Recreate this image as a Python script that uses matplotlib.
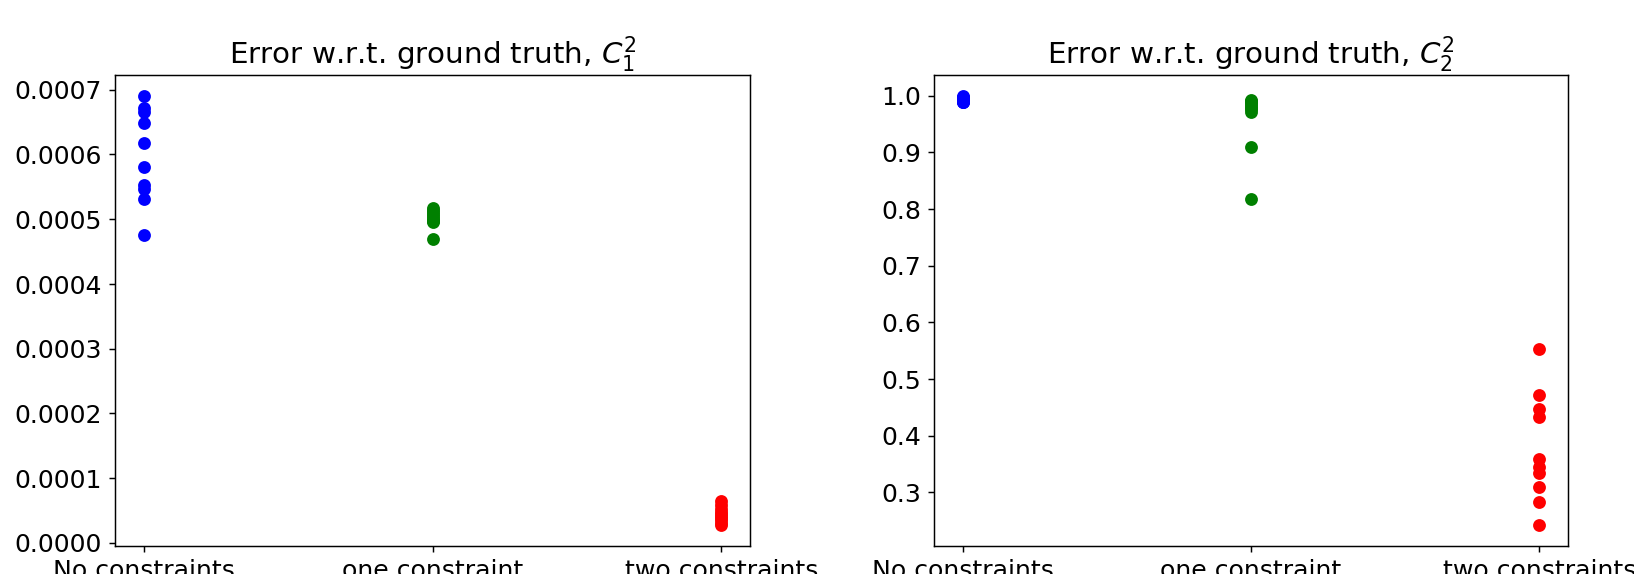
import numpy as np
import matplotlib.pyplot as plt

labels = ['No constraints', 'one constraint', 'two constraints']

# error against ground truth for C_1^2
c1_none = [0.000690, 0.000672, 0.000666, 0.000648, 0.000618,
           0.000581, 0.000553, 0.000546, 0.000531, 0.000475]
c1_one = [0.000517, 0.000514, 0.000511, 0.000508, 0.000505,
          0.000502, 0.000499, 0.000497, 0.000495, 0.000469]
c1_two = [0.000064, 0.000058, 0.000052, 0.000048, 0.000045,
          0.000041, 0.000038, 0.000035, 0.000031, 0.000028]

# error against ground truth for C_2^2
c2_none = [0.999, 0.998, 0.996, 0.995, 0.993,
           0.992, 0.990, 0.989, 0.988, 0.988]
c2_one = [0.993, 0.990, 0.988, 0.985, 0.982,
          0.979, 0.976, 0.972, 0.909, 0.817]
c2_two = [0.553, 0.472, 0.447, 0.433, 0.359,
          0.344, 0.334, 0.309, 0.283, 0.243]

fig = plt.figure(figsize=(12.38, 4.35), dpi=132)
ax1 = fig.add_axes([0.0704, 0.0488, 0.3886, 0.8206])
ax2 = fig.add_axes([0.5716, 0.0488, 0.3880, 0.8206])

for ax, data, title in [(ax1, (c1_none, c1_one, c1_two), r'Error w.r.t. ground truth, $C_1^2$'),
                        (ax2, (c2_none, c2_one, c2_two), r'Error w.r.t. ground truth, $C_2^2$')]:
    for lab, vals, fmt in zip(labels, data, ['bo', 'go', 'ro']):
        ax.plot([lab] * len(vals), vals, fmt)
    ax.set_title(title, fontsize=16)
    ax.tick_params(labelsize=13.7)

fig.savefig('out.png', dpi=132)
